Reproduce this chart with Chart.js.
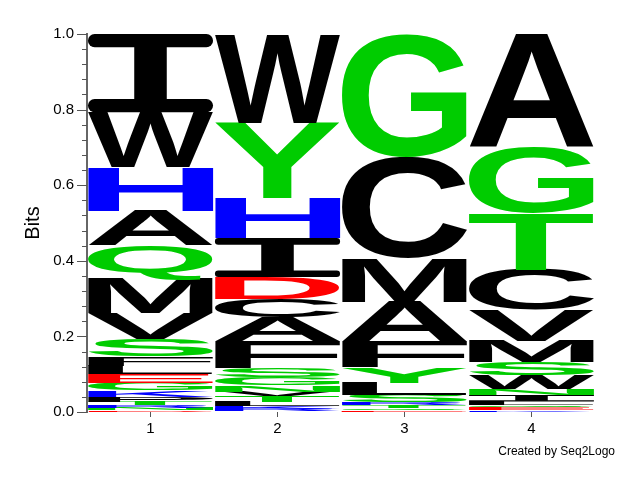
<!DOCTYPE html>
<html>
<head>
<meta charset="utf-8">
<script src="https://cdn.jsdelivr.net/npm/chart.js@4/dist/chart.umd.min.js"></script>
<style>
  body { margin: 0; background: #fff; }
</style>
</head>
<body>
<canvas id="logo" width="640" height="480"></canvas>
<script>
// positions along the motif
const positions = ['1', '2', '3', '4'];

// letters per position, listed top of the stack first, with their heights in bits
const pos1Letters = ['I', 'W', 'H', 'A', 'Q', 'M', 'V', 'S', 'F', 'L', 'E', 'G', 'K', 'P', 'T', 'R', 'N', 'D'];
const pos1Bits = [0.207, 0.144, 0.116, 0.093, 0.089, 0.090, 0.068, 0.045, 0.025, 0.023, 0.023, 0.019, 0.018, 0.013, 0.009, 0.008, 0.006, 0.004];

const pos2Letters = ['W', 'Y', 'H', 'I', 'D', 'C', 'A', 'F', 'S', 'G', 'N', 'V', 'T', 'L', 'K', 'R'];
const pos2Bits = [0.235, 0.199, 0.106, 0.103, 0.059, 0.048, 0.063, 0.070, 0.024, 0.022, 0.017, 0.012, 0.015, 0.012, 0.008, 0.007];

const pos3Letters = ['G', 'C', 'M', 'A', 'F', 'Y', 'L', 'S', 'R', 'T', 'Q', 'E'];
const pos3Bits = [0.325, 0.270, 0.115, 0.104, 0.068, 0.041, 0.032, 0.019, 0.008, 0.007, 0.006, 0.005];

const pos4Letters = ['A', 'G', 'T', 'C', 'V', 'M', 'S', 'W', 'N', 'I', 'L', 'Q', 'E', 'K'];
const pos4Bits = [0.300, 0.174, 0.150, 0.106, 0.082, 0.056, 0.034, 0.036, 0.017, 0.017, 0.010, 0.006, 0.006, 0.006];

const yTicks = [0, 0.2, 0.4, 0.6, 0.8, 1.0];

const letterColor = (l) => {
  if ('GSTYQN'.includes(l)) return '#00CC00';
  if ('HKR'.includes(l)) return '#0000FF';
  if ('DE'.includes(l)) return '#FF0000';
  return '#000000';
};

// stack from the bottom up: dataset i holds the i-th letter from the bottom at each position
const allLetters = [pos1Letters, pos2Letters, pos3Letters, pos4Letters].map(a => a.slice().reverse());
const allBits = [pos1Bits, pos2Bits, pos3Bits, pos4Bits].map(a => a.slice().reverse());
const depth = Math.max(...allLetters.map(a => a.length));

const datasets = [];
for (let i = 0; i < depth; i++) {
  datasets.push({
    data: allBits.map(b => (i < b.length ? b[i] : null)),
    letters: allLetters.map(l => (i < l.length ? l[i] : '')),
    backgroundColor: 'rgba(0,0,0,0)',
    borderWidth: 0,
    barPercentage: 0.985,
    categoryPercentage: 1.0
  });
}

// the sans "I" is a bare bar, so give it the capped shape the logo uses
function drawCappedI(ctx, left, top, w, h) {
  const cap = h * 0.17;
  const stem = w * 0.26;
  const r = Math.min(cap / 2, w / 2);
  ctx.beginPath();
  ctx.roundRect(left, top, w, cap, r);
  ctx.fill();
  ctx.beginPath();
  ctx.roundRect(left, top + h - cap, w, cap, r);
  ctx.fill();
  ctx.fillRect(left + (w - stem) / 2, top + cap / 2, stem, h - cap);
}

// stretch each letter glyph to fill its bar
const letterPlugin = {
  id: 'letters',
  afterDatasetsDraw(chart) {
    const ctx = chart.ctx;
    const area = chart.chartArea;
    ctx.save();
    ctx.beginPath();
    ctx.rect(area.left, area.top, area.right - area.left, area.bottom - area.top);
    ctx.clip();
    ctx.font = 'bold 200px "Liberation Sans", Arial, sans-serif';
    ctx.textBaseline = 'alphabetic';
    ctx.textAlign = 'left';
    chart.data.datasets.forEach((ds, di) => {
      const meta = chart.getDatasetMeta(di);
      meta.data.forEach((bar, idx) => {
        const letter = ds.letters[idx];
        if (!letter || ds.data[idx] == null) return;
        const { x, y, base, width } = bar.getProps(['x', 'y', 'base', 'width'], true);
        const top = Math.min(y, base);
        const h = Math.abs(base - y);
        if (h < 0.3) return;
        ctx.fillStyle = letterColor(letter);
        if (letter === 'I') {
          drawCappedI(ctx, x - width / 2, top, width, h);
          return;
        }
        const m = ctx.measureText(letter);
        const gw = m.actualBoundingBoxLeft + m.actualBoundingBoxRight;
        const gh = m.actualBoundingBoxAscent + m.actualBoundingBoxDescent;
        ctx.save();
        ctx.translate(x - width / 2, top);
        ctx.scale(width / gw, h / gh);
        ctx.fillText(letter, m.actualBoundingBoxLeft, m.actualBoundingBoxAscent);
        ctx.restore();
      });
    });
    ctx.restore();
  }
};

// y tick marks: long at labelled values, short in between
const tickPlugin = {
  id: 'yTickMarks',
  afterDraw(chart) {
    const ctx = chart.ctx;
    const ys = chart.scales.y;
    ctx.save();
    ctx.strokeStyle = '#555';
    ctx.lineWidth = 1;
    ys.ticks.forEach(t => {
      const py = Math.round(ys.getPixelForValue(t.value)) + 0.5;
      const major = yTicks.some(v => Math.abs(v - t.value) < 1e-6);
      const len = major ? 10 : 5;
      ctx.beginPath();
      ctx.moveTo(ys.right - len, py);
      ctx.lineTo(ys.right, py);
      ctx.stroke();
    });
    ctx.restore();
  }
};

const creditPlugin = {
  id: 'credit',
  afterDraw(chart) {
    const ctx = chart.ctx;
    ctx.save();
    ctx.font = '12px "Liberation Sans", Arial, sans-serif';
    ctx.fillStyle = '#000';
    ctx.textAlign = 'right';
    ctx.textBaseline = 'middle';
    ctx.fillText('Created by Seq2Logo', chart.width - 25, chart.height - 28);
    ctx.restore();
  }
};

new Chart(document.getElementById('logo'), {
  type: 'bar',
  data: { labels: positions, datasets: datasets },
  options: {
    responsive: false,
    animation: false,
    layout: { padding: { top: 34, right: 45, bottom: 0, left: 0 } },
    plugins: {
      legend: { display: false },
      tooltip: { enabled: false }
    },
    scales: {
      x: {
        stacked: true,
        afterFit: (s) => { s.height = 68; },
        grid: { offset: false, drawOnChartArea: false, tickLength: 5, color: '#555' },
        border: { display: false },
        ticks: { color: '#000', padding: 3, font: { size: 15, family: '"Liberation Sans", Arial, sans-serif' } }
      },
      y: {
        stacked: true,
        min: 0,
        max: 1,
        afterFit: (s) => { s.width = 87; },
        grid: { drawOnChartArea: false, tickLength: 10, tickColor: 'rgba(0,0,0,0)' },
        border: { display: true, color: '#666', width: 2 },
        title: {
          display: true,
          text: 'Bits',
          color: '#000',
          padding: { top: 21, bottom: 0 },
          font: { size: 20, family: '"Liberation Sans", Arial, sans-serif' }
        },
        ticks: {
          stepSize: 0.04,
          autoSkip: false,
          color: '#000',
          padding: 3,
          font: { size: 15, family: '"Liberation Sans", Arial, sans-serif' },
          callback: (v) => (yTicks.some(t => Math.abs(t - v) < 1e-6) ? Number(v).toFixed(1) : '')
        }
      }
    }
  },
  plugins: [letterPlugin, tickPlugin, creditPlugin]
});
</script>
</body>
</html>
